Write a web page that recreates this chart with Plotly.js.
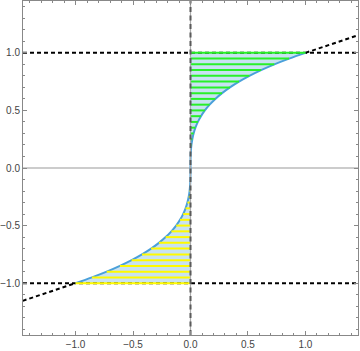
<!DOCTYPE html>
<html>
<head>
<meta charset="utf-8">
<script src="https://cdn.plot.ly/plotly-3.0.1.min.js"></script>
<style>html,body{margin:0;padding:0;background:#fff;}#chart{width:360px;height:351px;}</style>
</head>
<body>
<div id="chart"></div>
<script>
// Upper branch of the curve (y = cube root of x), read at y steps of 0.05
var upperY = [0, 0.05, 0.10, 0.15, 0.20, 0.25, 0.30, 0.35, 0.40, 0.45, 0.50, 0.55, 0.60, 0.65, 0.70, 0.75, 0.80, 0.85, 0.90, 0.95, 1.00];
var upperX = [0, 0.000125, 0.001, 0.003375, 0.008, 0.015625, 0.027, 0.042875, 0.064, 0.091125, 0.125, 0.166375, 0.216, 0.274625, 0.343, 0.421875, 0.512, 0.614125, 0.729, 0.857375, 1.0];
// Lower branch
var lowerY = [0, -0.05, -0.10, -0.15, -0.20, -0.25, -0.30, -0.35, -0.40, -0.45, -0.50, -0.55, -0.60, -0.65, -0.70, -0.75, -0.80, -0.85, -0.90, -0.95, -1.00];
var lowerX = [0, -0.000125, -0.001, -0.003375, -0.008, -0.015625, -0.027, -0.042875, -0.064, -0.091125, -0.125, -0.166375, -0.216, -0.274625, -0.343, -0.421875, -0.512, -0.614125, -0.729, -0.857375, -1.0];
// Reference lines
var levelLines = [1, -1];
var tangentUpperX = [1, 1.46];
var tangentUpperY = [1, 1.1533];
var tangentLowerX = [-1.46, -1];
var tangentLowerY = [-1.1533, -1];
var xRange = [-1.457, 1.457];
var yRange = [-1.45, 1.45];
var tickVals = [-1.0, -0.5, 0.0, 0.5, 1.0];
var tickText = ['\u22121.0', '\u22120.5', '0.0', '0.5', '1.0'];

function stripes(xs, ys) {
  var sx = [], sy = [];
  for (var i = 1; i < ys.length; i++) {
    sx.push(0, xs[i], null);
    sy.push(ys[i], ys[i], null);
  }
  return {x: sx, y: sy};
}
var su = stripes(upperX, upperY);
var sl = stripes(lowerX, lowerY);

var traces = [];
// fills
traces.push({x: upperX, y: upperY, mode: 'lines', line: {width: 0, color: 'rgba(0,0,0,0)', shape: 'spline'}, fill: 'tozerox', fillcolor: 'rgb(200,226,241)', hoverinfo: 'skip'});
traces.push({x: lowerX, y: lowerY, mode: 'lines', line: {width: 0, color: 'rgba(0,0,0,0)', shape: 'spline'}, fill: 'tozerox', fillcolor: 'rgb(200,226,241)', hoverinfo: 'skip'});
// y=0 axis line
traces.push({x: xRange, y: [0, 0], mode: 'lines', line: {color: '#999', width: 1.2}, hoverinfo: 'skip'});
// dashed level lines
levelLines.forEach(function (v) {
  traces.push({x: xRange, y: [v, v], mode: 'lines', line: {color: '#000', width: 2, dash: '4px,3px'}, hoverinfo: 'skip'});
});
// tangents
traces.push({x: tangentUpperX, y: tangentUpperY, mode: 'lines', line: {color: '#000', width: 2, dash: '4px,3px'}, hoverinfo: 'skip'});
traces.push({x: tangentLowerX, y: tangentLowerY, mode: 'lines', line: {color: '#000', width: 2, dash: '4px,3px'}, hoverinfo: 'skip'});
// curves
traces.push({x: upperX, y: upperY, mode: 'lines', line: {color: 'rgb(74,160,218)', width: 2, shape: 'spline'}, hoverinfo: 'skip'});
traces.push({x: lowerX, y: lowerY, mode: 'lines', line: {color: 'rgb(74,160,218)', width: 2, shape: 'spline'}, hoverinfo: 'skip'});
// stripes
traces.push({x: su.x, y: su.y, mode: 'lines', line: {color: 'rgb(40,240,40)', width: 2}, connectgaps: false, hoverinfo: 'skip'});
traces.push({x: sl.x, y: sl.y, mode: 'lines', line: {color: 'rgb(255,250,0)', width: 2}, connectgaps: false, hoverinfo: 'skip'});
// x=0 axis + dashed vertical
traces.push({x: [0, 0], y: yRange, mode: 'lines', line: {color: '#aaa', width: 1.2}, hoverinfo: 'skip'});
traces.push({x: [0, 0], y: yRange, mode: 'lines', line: {color: '#5a5a5a', width: 2, dash: '5px,3.5px'}, hoverinfo: 'skip'});

var axisCommon = {
  showgrid: false, zeroline: false, showline: true, linecolor: '#888', linewidth: 1,
  mirror: 'ticks', ticks: 'inside', ticklen: 4, tickwidth: 1, tickcolor: '#888',
  tickvals: tickVals, ticktext: tickText,
  tickfont: {family: 'Liberation Sans, Arial, sans-serif', size: 10, color: '#444'},
  minor: {dtick: 0.1, tick0: 0, ticks: 'inside', ticklen: 2, tickcolor: '#888', tickwidth: 1, showgrid: false}
};
var layout = {
  width: 360, height: 351,
  margin: {l: 23, r: 2, t: 1, b: 16},
  showlegend: false,
  paper_bgcolor: '#fff', plot_bgcolor: '#fff',
  xaxis: Object.assign({}, axisCommon, {range: xRange}),
  yaxis: Object.assign({}, axisCommon, {range: yRange})
};
Plotly.newPlot('chart', traces, layout, {staticPlot: true, displayModeBar: false});
</script>
</body>
</html>
